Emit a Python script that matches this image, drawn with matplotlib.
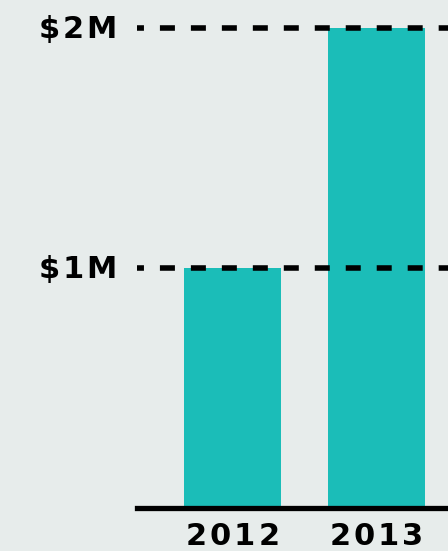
import matplotlib
matplotlib.use("Agg")
import matplotlib.pyplot as plt
from matplotlib.font_manager import FontProperties
from matplotlib.transforms import offset_copy

years = ["2012", "2013"]
revenue = [1.0e6, 2.0e6]
gridlines = [1.0e6, 2.0e6]
grid_labels = ["$1M", "$2M"]

bg = "#e7eceb"
teal = "#1bbdb8"

W, H = 448, 551
fig = plt.figure(figsize=(W / 100, H / 100), dpi=100, facecolor=bg)
ax = fig.add_axes([137 / W, 43 / H, 1 - 137 / W, 1 - 43 / H], facecolor=bg)

x = list(range(len(years)))
ax.bar(x, revenue, width=0.674, color=teal, zorder=2)

# dashed guides over the bars
lw = 4.0
for v in gridlines:
    ax.axhline(v, color="black", lw=lw, zorder=3,
               linestyle=(5.8 / lw, (10.8 / lw, 11.5 / lw)), dash_capstyle="butt")
ax.axhline(0, color="black", lw=3.8, zorder=3, clip_on=False)

ax.set_xlim(-0.663, 1.497)
ax.set_ylim(0, 2.1167e6)
ax.set_xticks([])
ax.set_yticks([])
for s in ax.spines.values():
    s.set_visible(False)

# letter-spaced labels, drawn one character at a time
font = FontProperties(family="DejaVu Sans", weight="bold", size=22)
renderer = fig.canvas.get_renderer()
track = 3


def spaced(xv, yv, s, trans, ha, dx=0, dy=0):
    widths = [renderer.get_text_width_height_descent(c, font, ismath=False)[0] for c in s]
    total = sum(widths) + track * (len(s) - 1)
    start = {"left": 0, "center": -total / 2, "right": -total}[ha]
    pos = start
    for c, w in zip(s, widths):
        t = offset_copy(trans, x=dx + pos, y=dy, units="dots")
        ax.text(xv, yv, c, transform=t, fontproperties=font, color="black",
                ha="left", va="baseline", clip_on=False)
        pos += w + track


ytrans = ax.get_yaxis_transform()
for v, lab in zip(gridlines, grid_labels):
    spaced(0, v, lab, ytrans, "right", dx=-20, dy=-9.5)

xtrans = ax.get_xaxis_transform()
for xi, yr in zip(x, years):
    spaced(xi, 0, yr, xtrans, "center", dy=-37)

fig.savefig("out.png", dpi=100, facecolor=bg)
